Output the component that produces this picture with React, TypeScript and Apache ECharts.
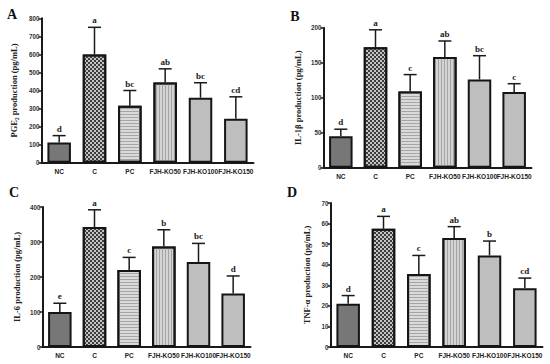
import React, { useEffect, useRef } from "react";
import * as echarts from "echarts";

const categories = ["NC", "C", "PC", "FJH-KO50", "FJH-KO100", "FJH-KO150"];

const pgeMean = [112, 600, 315, 445, 360, 243];
const pgeErr = [150, 750, 400, 520, 443, 365];
const pgeLetters = ["d", "a", "bc", "ab", "bc", "cd"];

const ilbMean = [45, 172, 109, 158, 126, 108];
const ilbErr = [55, 197, 133, 181, 160, 120];
const ilbLetters = ["d", "a", "c", "ab", "bc", "c"];

const il6Mean = [100, 343, 220, 287, 243, 153];
const il6Err = [125, 392, 256, 335, 296, 203];
const il6Letters = ["e", "a", "c", "b", "bc", "d"];

const tnfMean = [21, 57.5, 35.5, 53, 44.5, 28.5];
const tnfErr = [25, 63.5, 44.5, 58.5, 51.5, 33.5];
const tnfLetters = ["d", "a", "c", "ab", "b", "cd"];

const panelNames = ["A", "B", "C", "D"];
const axisTitles = [
  "PGE\u2082 production (pg/mL)",
  "IL-1\u03b2 production (pg/mL)",
  "IL-6 production (pg/mL)",
  "TNF-\u03b1 production (pg/mL)",
];
const yMax = [800, 200, 400, 70];
const yStep = [100, 50, 100, 10];

const SANS = "'Liberation Sans', Arial, sans-serif";
const SERIF = "'Liberation Serif', 'Times New Roman', serif";

function barStyle(i: number): any {
  const base: any = { borderColor: "#151515", borderWidth: 2 };
  if (i === 0) return { ...base, color: "#777777" };
  if (i === 1)
    return {
      ...base,
      color: "#c4c4c4",
      decal: {
        symbol: "rect",
        symbolSize: 1,
        color: "#3c3c3c",
        dashArrayX: [[2, 2], [0, 2, 2, 0]],
        dashArrayY: [2, 0],
      },
    };
  if (i === 2)
    return {
      ...base,
      color: "#dadada",
      decal: {
        symbol: "rect",
        symbolSize: 1,
        color: "#a6a6a6",
        dashArrayX: [1, 0],
        dashArrayY: [1, 2],
      },
    };
  if (i === 3)
    return {
      ...base,
      color: "#d4d4d4",
      decal: {
        symbol: "rect",
        symbolSize: 1,
        color: "#a4a4a4",
        dashArrayX: [1, 2],
        dashArrayY: [1, 0],
      },
    };
  return { ...base, color: "#bebebe" };
}

export default function App() {
  const ref = useRef<HTMLDivElement>(null);

  useEffect(() => {
    if (!ref.current) return;
    const chart = echarts.init(ref.current, null, { renderer: "svg" });

    const means = [pgeMean, ilbMean, il6Mean, tnfMean];
    const errs = [pgeErr, ilbErr, il6Err, tnfErr];
    const letters = [pgeLetters, ilbLetters, il6Letters, tnfLetters];

    const grids = [
      { left: 41.5, top: 18.3, width: 212, height: 144.4 },
      { left: 323.5, top: 27.7, width: 208, height: 140 },
      { left: 42.5, top: 207, width: 208, height: 140 },
      { left: 330.5, top: 203, width: 212, height: 144 },
    ];
    const nameGaps = [23, 21, 21, 19];

    const xAxis = grids.map((_, k) => ({
      type: "category",
      gridIndex: k,
      data: categories,
      axisLine: { lineStyle: { color: "#1a1a1a", width: 2 } },
      axisTick: { show: false },
      axisLabel: {
        interval: 0,
        fontFamily: SANS,
        fontWeight: "bold",
        fontSize: 6.5,
        color: "#222",
        margin: 5,
      },
    }));

    const yAxis = grids.map((_, k) => ({
      type: "value",
      gridIndex: k,
      min: 0,
      max: yMax[k],
      interval: yStep[k],
      splitLine: { show: false },
      axisLine: { show: true, lineStyle: { color: "#1a1a1a", width: 2 } },
      axisTick: { show: true, length: 3, lineStyle: { width: 1.5, color: "#1a1a1a" } },
      axisLabel: {
        fontFamily: SANS,
        fontWeight: "bold",
        fontSize: 6.3,
        color: "#333",
        margin: 2,
      },
      name: axisTitles[k],
      nameLocation: "middle",
      nameRotate: 90,
      nameGap: nameGaps[k],
      nameTextStyle: {
        fontFamily: SERIF,
        fontWeight: "bold",
        fontSize: 8.5,
        color: "#222",
      },
    }));

    const series: any[] = [];
    grids.forEach((_, k) => {
      series.push({
        type: "bar",
        xAxisIndex: k,
        yAxisIndex: k,
        barWidth: 23.5,
        data: means[k].map((v, i) => ({ value: v, itemStyle: barStyle(i) })),
        z: 2,
      });
      const lt = letters[k];
      series.push({
        type: "custom",
        xAxisIndex: k,
        yAxisIndex: k,
        z: 3,
        data: means[k].map((v, i) => [i, v, errs[k][i]]),
        renderItem: (params: any, api: any) => {
          const idx = api.value(0);
          const p0 = api.coord([idx, api.value(1)]);
          const p1 = api.coord([idx, api.value(2)]);
          const half = 6.5;
          return {
            type: "group",
            children: [
              {
                type: "line",
                shape: { x1: p0[0], y1: p0[1], x2: p1[0], y2: p1[1] },
                style: { stroke: "#1a1a1a", lineWidth: 1.5 },
              },
              {
                type: "line",
                shape: { x1: p1[0] - half, y1: p1[1], x2: p1[0] + half, y2: p1[1] },
                style: { stroke: "#1a1a1a", lineWidth: 1.5 },
              },
              {
                type: "text",
                x: p1[0],
                y: p1[1] - 2.5,
                style: {
                  text: lt[params.dataIndex],
                  fontFamily: SERIF,
                  fontWeight: "bold",
                  fontSize: 9,
                  fill: "#222",
                  align: "center",
                  verticalAlign: "bottom",
                },
              },
            ],
          };
        },
      });
    });

    const letterPos = [
      [12, 14],
      [295, 16],
      [14, 192],
      [292, 192],
    ];
    const graphic = panelNames.map((t, k) => ({
      type: "text",
      x: letterPos[k][0],
      y: letterPos[k][1],
      style: {
        text: t,
        fontFamily: SERIF,
        fontWeight: "bold",
        fontSize: 14,
        fill: "#111",
        align: "center",
        verticalAlign: "middle",
      },
    }));

    chart.setOption({
      animation: false,
      backgroundColor: "#ffffff",
      grid: grids,
      xAxis,
      yAxis,
      series,
      graphic,
    });

    return () => chart.dispose();
  }, []);

  return (
    <div
      ref={ref}
      style={{ position: "absolute", left: 0, top: 0, width: 550, height: 364 }}
    />
  );
}
